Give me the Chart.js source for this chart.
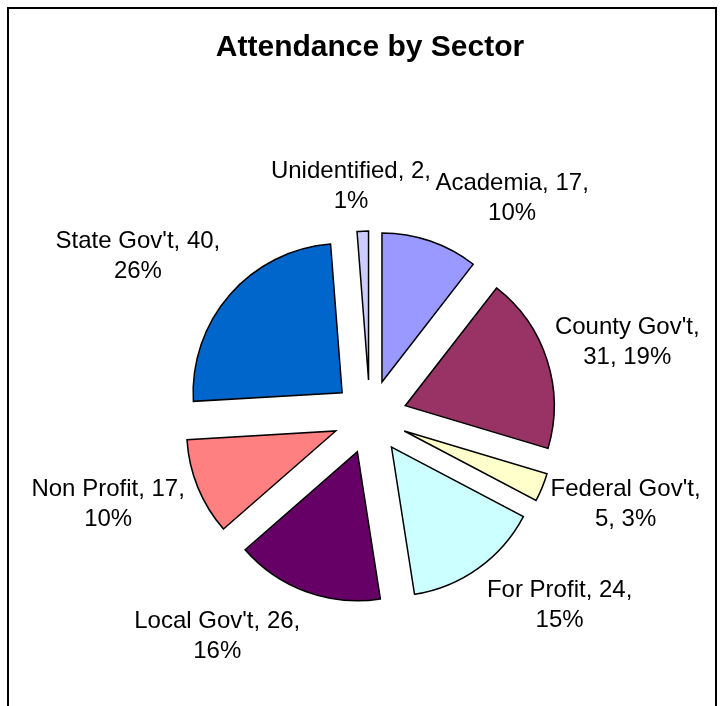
<!DOCTYPE html>
<html>
<head>
<meta charset="utf-8">
<script src="https://cdn.jsdelivr.net/npm/chart.js@4.4.1/dist/chart.umd.min.js"></script>
<style>
  html, body { margin: 0; padding: 0; background: #fff; overflow: hidden; }
  #wrap { position: relative; width: 723px; height: 706px; }
  #frame { position: absolute; left: 7px; top: 7px; width: 706px; height: 760px; border: 2px solid #000; }
  #chart { position: absolute; left: 0; top: 0; }
</style>
</head>
<body>
<div id="wrap">
  <div id="frame"></div>
  <canvas id="chart" width="723" height="706"></canvas>
</div>
<script>
const sectors = ["Academia", "County Gov't", "Federal Gov't", "For Profit", "Local Gov't", "Non Profit", "State Gov't", "Unidentified"];
const attendance = [17, 31, 5, 24, 26, 17, 40, 2];
const percentLabels = ["10%", "19%", "3%", "15%", "16%", "10%", "26%", "1%"];
const sliceColors = ["#9999FF", "#993366", "#FFFFCC", "#CCFFFF", "#660066", "#FF8080", "#0066CC", "#CCCCFF"];

// label placement: turn (deg, clockwise) from the slice middle, distance from centre
const labelShift = [14.1, 1.5, -3.4, -9.7, 14.9, 3.8, -6.5, -2.5];
const labelDist = [261, 268, 270, 267, 267, 276, 282, 231];
// County and Federal put the value on the second line
const valueOnSecondLine = [false, true, true, false, false, false, false, false];

const RADIUS = 149;
const EXPLODE = 37;      // how far each slice is pulled out, px
const LINE_GAP = 30;
const FONT = "'Liberation Sans', Arial, Helvetica, sans-serif";

// chart.js "offset" also trims thin slices, so pull the slices out by moving
// each arc's own centre along its middle angle instead
const explode = {
    id: 'explode',
    afterUpdate(chart) {
        const area = chart.chartArea;
        const cx = (area.left + area.right) / 2;
        const cy = (area.top + area.bottom) / 2;
        chart.getDatasetMeta(0).data.forEach(arc => {
            const mid = (arc.startAngle + arc.endAngle) / 2;
            arc.x = cx + Math.cos(mid) * EXPLODE;
            arc.y = cy + Math.sin(mid) * EXPLODE;
        });
    }
};

const sliceLabels = {
    id: 'sliceLabels',
    afterDatasetsDraw(chart) {
        const ctx = chart.ctx;
        const area = chart.chartArea;
        const x0 = (area.left + area.right) / 2;
        const y0 = (area.top + area.bottom) / 2;
        ctx.save();
        ctx.fillStyle = '#000';
        ctx.font = '24px ' + FONT;
        ctx.textAlign = 'center';
        ctx.textBaseline = 'middle';
        chart.getDatasetMeta(0).data.forEach((arc, i) => {
            const ang = (arc.startAngle + arc.endAngle) / 2 + labelShift[i] * Math.PI / 180;
            const cx = x0 + Math.cos(ang) * labelDist[i];
            const cy = y0 + Math.sin(ang) * labelDist[i];
            let l1, l2;
            if (valueOnSecondLine[i]) {
                l1 = sectors[i] + ',';
                l2 = attendance[i] + ', ' + percentLabels[i];
            } else {
                l1 = sectors[i] + ', ' + attendance[i] + ',';
                l2 = percentLabels[i];
            }
            ctx.fillText(l1, cx, cy - LINE_GAP / 2);
            ctx.fillText(l2, cx, cy + LINE_GAP / 2);
        });
        ctx.restore();
    }
};

new Chart(document.getElementById('chart'), {
    type: 'pie',
    data: {
        labels: sectors,
        datasets: [{
            data: attendance,
            backgroundColor: sliceColors,
            borderColor: '#000',
            borderWidth: 1.5,
            borderJoinStyle: 'miter',
        }],
    },
    options: {
        responsive: false,
        devicePixelRatio: 1,
        animation: false,
        events: [],
        radius: RADIUS,
        layout: { padding: { top: 12, left: 17, right: 0, bottom: 0 } },
        plugins: {
            legend: { display: false },
            tooltip: { enabled: false },
            title: {
                display: true,
                text: 'Attendance by Sector',
                color: '#000',
                font: { family: FONT, size: 30, weight: 'bold' },
                padding: { top: 18, bottom: 62 },
            },
        },
    },
    plugins: [explode, sliceLabels],
});
</script>
</body>
</html>
